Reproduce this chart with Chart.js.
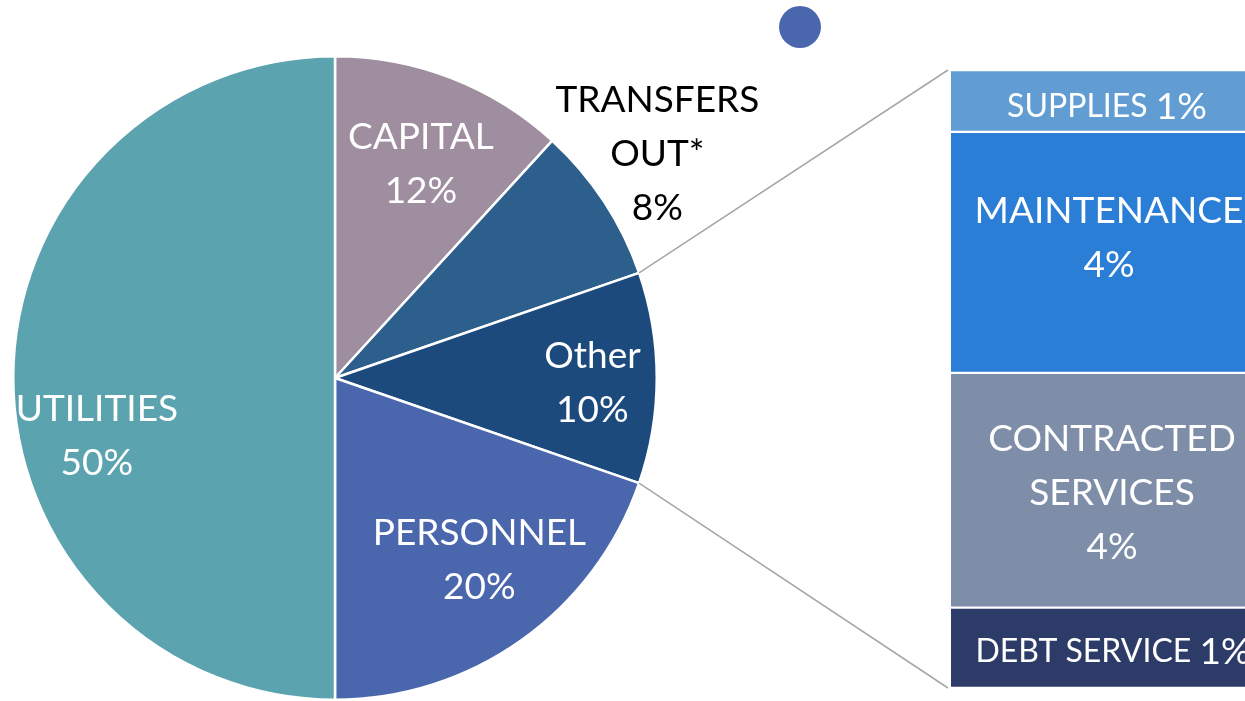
<!DOCTYPE html>
<html>
<head>
<meta charset="utf-8">
<script src="https://cdn.jsdelivr.net/npm/chart.js@4.4.1/dist/chart.umd.min.js"></script>
<style>
  html, body { margin: 0; padding: 0; background: #fff; overflow: hidden; }
  #wrap { position: relative; width: 1245px; height: 701px; overflow: hidden; }
  #pie { position: absolute; left: 0; top: 0; }
  #barra { position: absolute; left: 951px; top: 70px; }
  #punto { position: absolute; left: 779px; top: 6px; width: 42px; height: 42px; border-radius: 50%; background: #4A67AE; }
</style>
</head>
<body>
<div id="wrap">
  <canvas id="pie" width="1245" height="701"></canvas>
  <canvas id="barra" width="322" height="618"></canvas>
  <div id="punto"></div>
</div>
<script>
// datos del pastel (sentido horario desde arriba)
const categorias = ['CAPITAL', 'TRANSFERS OUT*', 'Other', 'PERSONNEL', 'UTILITIES'];
const valores = [11.8, 7.9, 10.6, 19.7, 50];
const etiquetas = [['CAPITAL', '12%'], ['TRANSFERS', 'OUT*', '8%'], ['Other', '10%'], ['PERSONNEL', '20%'], ['UTILITIES', '50%']];

// desglose de "Other" (de abajo hacia arriba)
const subCategorias = ['DEBT SERVICE', 'CONTRACTED SERVICES', 'MAINTENANCE', 'SUPPLIES'];
const subValores = [1.3, 3.8, 3.9, 1.0];
const subNombres = [['DEBT SERVICE'], ['CONTRACTED', 'SERVICES'], ['MAINTENANCE'], ['SUPPLIES']];
const subPorcentajes = ['1%', '4%', '4%', '1%'];

// estilos
const coloresPie = ['#9E8E9F', '#2C5F8C', '#1C4A7D', '#4A66AC', '#5BA3AF'];
const coloresTexto = ['#fff', '#000', '#fff', '#fff', '#fff'];
const posTexto = [
  { f: 0.72, dx: 2, dy: 2 },
  { f: 1.21, dx: -3, dy: -10 },
  { f: 0.8, dx: 0, dy: 5 },
  { f: 0.72, dx: 10, dy: -7 },
  { f: 0.74, dx: 0, dy: 58 },
];
const coloresBarra = ['#2C3B67', '#7F8EA8', '#2A7ED6', '#619DD3'];
const enLinea = [true, false, false, true];
const dxBarra = [1, 0, -3, -5];
const dyBarra = [4, 3, -14, 6];
const fuente = 'Lato, "DejaVu Sans", sans-serif';
const tam = 37, tamChico = 32, alto = 54;

const totalSub = subValores.reduce((a, b) => a + b, 0);

const etiquetasBarra = {
  id: 'etiquetasBarra',
  afterDatasetsDraw(chart) {
    const c = chart.ctx;
    c.save();
    c.fillStyle = '#fff';
    c.textBaseline = 'middle';
    chart.data.datasets.forEach((ds, i) => {
      const el = chart.getDatasetMeta(i).data[0];
      const cx = el.x + dxBarra[i];
      const cy = (el.y + el.base) / 2 + dyBarra[i];
      if (enLinea[i]) {
        c.font = `${tamChico}px ${fuente}`;
        const w1 = c.measureText(subNombres[i][0] + ' ').width;
        c.font = `${tam}px ${fuente}`;
        const w2 = c.measureText(subPorcentajes[i]).width;
        const x = cx - (w1 + w2) / 2;
        c.textAlign = 'left';
        c.font = `${tamChico}px ${fuente}`;
        c.fillText(subNombres[i][0] + ' ', x, cy);
        c.font = `${tam}px ${fuente}`;
        c.fillText(subPorcentajes[i], x + w1, cy);
      } else {
        const lineas = subNombres[i].concat([subPorcentajes[i]]);
        c.textAlign = 'center';
        c.font = `${tam}px ${fuente}`;
        const y0 = cy - (lineas.length - 1) * alto / 2;
        lineas.forEach((t, k) => c.fillText(t, cx, y0 + k * alto));
      }
    });
    c.restore();
  }
};

const graficoBarra = new Chart(document.getElementById('barra').getContext('2d'), {
  type: 'bar',
  data: {
    labels: ['Other'],
    datasets: subCategorias.map((nombre, i) => ({
      label: nombre,
      data: [subValores[i]],
      backgroundColor: coloresBarra[i],
      borderColor: '#fff',
      borderWidth: { top: 1.5, bottom: 1.5, left: 0, right: 0 },
      borderSkipped: false,
      barPercentage: 1,
      categoryPercentage: 1,
    })),
  },
  options: {
    responsive: false,
    animation: false,
    layout: { padding: 0 },
    scales: {
      x: { stacked: true, display: false },
      y: { stacked: true, display: false, min: 0, max: totalSub },
    },
    plugins: { legend: { display: false }, tooltip: { enabled: false } },
  },
  plugins: [etiquetasBarra],
});

const etiquetasPie = {
  id: 'etiquetasPie',
  afterDatasetsDraw(chart) {
    const c = chart.ctx;
    const arcos = chart.getDatasetMeta(0).data;
    c.save();
    // lineas de conexion hacia la barra
    const otro = arcos[2];
    const barraCanvas = document.getElementById('barra');
    const metaArriba = graficoBarra.getDatasetMeta(subValores.length - 1).data[0];
    const metaAbajo = graficoBarra.getDatasetMeta(0).data[0];
    const bx = barraCanvas.offsetLeft - 3;
    c.strokeStyle = '#A6A6A6';
    c.lineWidth = 1.5;
    c.beginPath();
    c.moveTo(otro.x + otro.outerRadius * Math.cos(otro.startAngle), otro.y + otro.outerRadius * Math.sin(otro.startAngle));
    c.lineTo(bx, barraCanvas.offsetTop + metaArriba.y);
    c.moveTo(otro.x + otro.outerRadius * Math.cos(otro.endAngle), otro.y + otro.outerRadius * Math.sin(otro.endAngle));
    c.lineTo(bx, barraCanvas.offsetTop + metaAbajo.base);
    c.stroke();

    c.textAlign = 'center';
    c.textBaseline = 'middle';
    c.font = `${tam}px ${fuente}`;
    arcos.forEach((arco, i) => {
      const medio = (arco.startAngle + arco.endAngle) / 2;
      const r = arco.outerRadius * posTexto[i].f;
      const x = arco.x + r * Math.cos(medio) + posTexto[i].dx;
      const y = arco.y + r * Math.sin(medio) + posTexto[i].dy;
      const lineas = etiquetas[i];
      const y0 = y - (lineas.length - 1) * alto / 2;
      c.fillStyle = coloresTexto[i];
      lineas.forEach((t, k) => c.fillText(t, x, y0 + k * alto));
    });
    c.restore();
  }
};

new Chart(document.getElementById('pie').getContext('2d'), {
  type: 'pie',
  data: {
    labels: categorias,
    datasets: [{
      data: valores,
      backgroundColor: coloresPie,
      borderColor: '#fff',
      borderWidth: 2.5,
    }],
  },
  options: {
    responsive: false,
    animation: false,
    layout: { padding: { left: 12, right: 587, top: 55, bottom: 0 } },
    plugins: { legend: { display: false }, tooltip: { enabled: false } },
  },
  plugins: [etiquetasPie],
});
</script>
</body>
</html>
